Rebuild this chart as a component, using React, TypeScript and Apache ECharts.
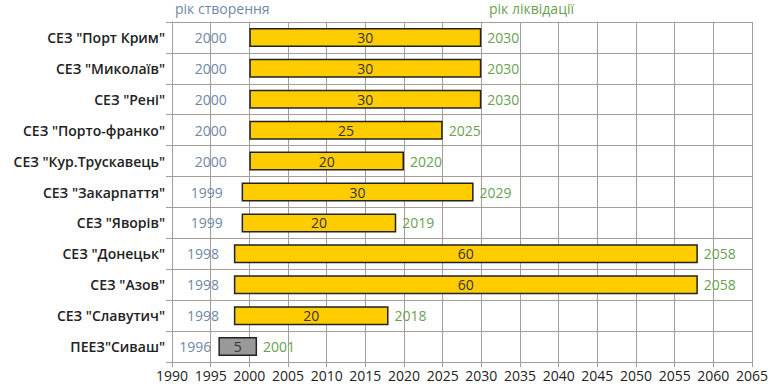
import React, { useEffect, useRef } from "react";
import * as echarts from "echarts";

const categories = [
  'СЕЗ "Порт Крим"',
  'СЕЗ "Миколаїв"',
  'СЕЗ "Рені"',
  'СЕЗ "Порто-франко"',
  'СЕЗ "Кур.Трускавець"',
  'СЕЗ "Закарпаття"',
  'СЕЗ "Яворів"',
  'СЕЗ "Донецьк"',
  'СЕЗ "Азов"',
  'СЕЗ "Славутич"',
  'ПЕЕЗ"Сиваш"',
];
const startYears = [2000, 2000, 2000, 2000, 2000, 1999, 1999, 1998, 1998, 1998, 1996];
const durations = [30, 30, 30, 25, 20, 30, 20, 60, 60, 20, 5];
const endYears = [2030, 2030, 2030, 2025, 2020, 2029, 2019, 2058, 2058, 2018, 2001];
const baseYear = 1990;
const xTickStep = 5;
const xSpan = 75;

const FONT = "'Open Sans', 'Noto Sans', sans-serif";
const GRID_COLOR = "#a89c98";
const START_COLOR = "#6f87a8";
const END_COLOR = "#6aa052";

export default function App() {
  const ref = useRef<HTMLDivElement>(null);
  useEffect(() => {
    if (!ref.current) return;
    const chart = echarts.init(ref.current, undefined, { renderer: "svg" });
    const offsets = startYears.map((y) => y - baseYear);
    const endOffsets = endYears.map((y) => y - baseYear);
    chart.setOption({
      animation: false,
      textStyle: { fontFamily: FONT },
      graphic: [
        {
          type: "text",
          left: 175,
          top: 1,
          style: { text: "рік створення", fill: START_COLOR, font: `14px ${FONT}` },
        },
        {
          type: "text",
          left: 489,
          top: 1,
          style: { text: "рік ліквідації", fill: END_COLOR, font: `14px ${FONT}` },
        },
      ],
      grid: { left: 172, right: 14, top: 22, bottom: 27, containLabel: false },
      xAxis: {
        type: "value",
        min: 0,
        max: xSpan,
        interval: xTickStep,
        axisLine: { show: true, lineStyle: { color: GRID_COLOR } },
        axisTick: { show: true, length: 5, lineStyle: { color: GRID_COLOR } },
        splitLine: { show: true, lineStyle: { color: GRID_COLOR, width: 1 } },
        axisLabel: {
          color: "#222",
          fontSize: 14,
          margin: 6,
          fontFamily: FONT,
          formatter: (v: number) => String(baseYear + v),
        },
      },
      yAxis: {
        type: "category",
        inverse: true,
        data: categories,
        axisLine: { show: true, lineStyle: { color: GRID_COLOR } },
        axisTick: { show: true, length: 6, lineStyle: { color: GRID_COLOR } },
        splitLine: { show: true, lineStyle: { color: GRID_COLOR, width: 1 } },
        axisLabel: {
          color: "#222",
          fontSize: 14,
          fontWeight: 600,
          margin: 7,
          fontFamily: FONT,
        },
      },
      series: [
        {
          type: "bar",
          stack: "t",
          barWidth: 19,
          data: offsets,
          itemStyle: { color: "transparent" },
          label: {
            show: true,
            position: "inside",
            color: START_COLOR,
            fontSize: 14,
            fontFamily: FONT,
            formatter: (p: any) => String(startYears[p.dataIndex]),
          },
          silent: true,
        },
        {
          type: "bar",
          stack: "t",
          barWidth: 19,
          data: durations.map((d, i) => ({
            value: d,
            itemStyle: {
              color: i === durations.length - 1 ? "#999999" : "#FFCC00",
              borderColor: "#222",
              borderWidth: 1.5,
            },
          })),
          label: {
            show: true,
            position: "inside",
            color: "#333",
            fontSize: 14,
            fontFamily: FONT,
          },
        },
        {
          type: "bar",
          barWidth: 19,
          barGap: "-100%",
          data: endOffsets,
          z: 1,
          itemStyle: { color: "transparent" },
          label: {
            show: true,
            position: "right",
            distance: 6,
            color: END_COLOR,
            fontSize: 14,
            fontFamily: FONT,
            formatter: (p: any) => String(endYears[p.dataIndex]),
          },
          silent: true,
        },
      ],
    });
    return () => chart.dispose();
  }, []);
  return (
    <div
      ref={ref}
      style={{ position: "fixed", left: 0, top: 0, width: 771, height: 389, background: "#fff" }}
    />
  );
}
